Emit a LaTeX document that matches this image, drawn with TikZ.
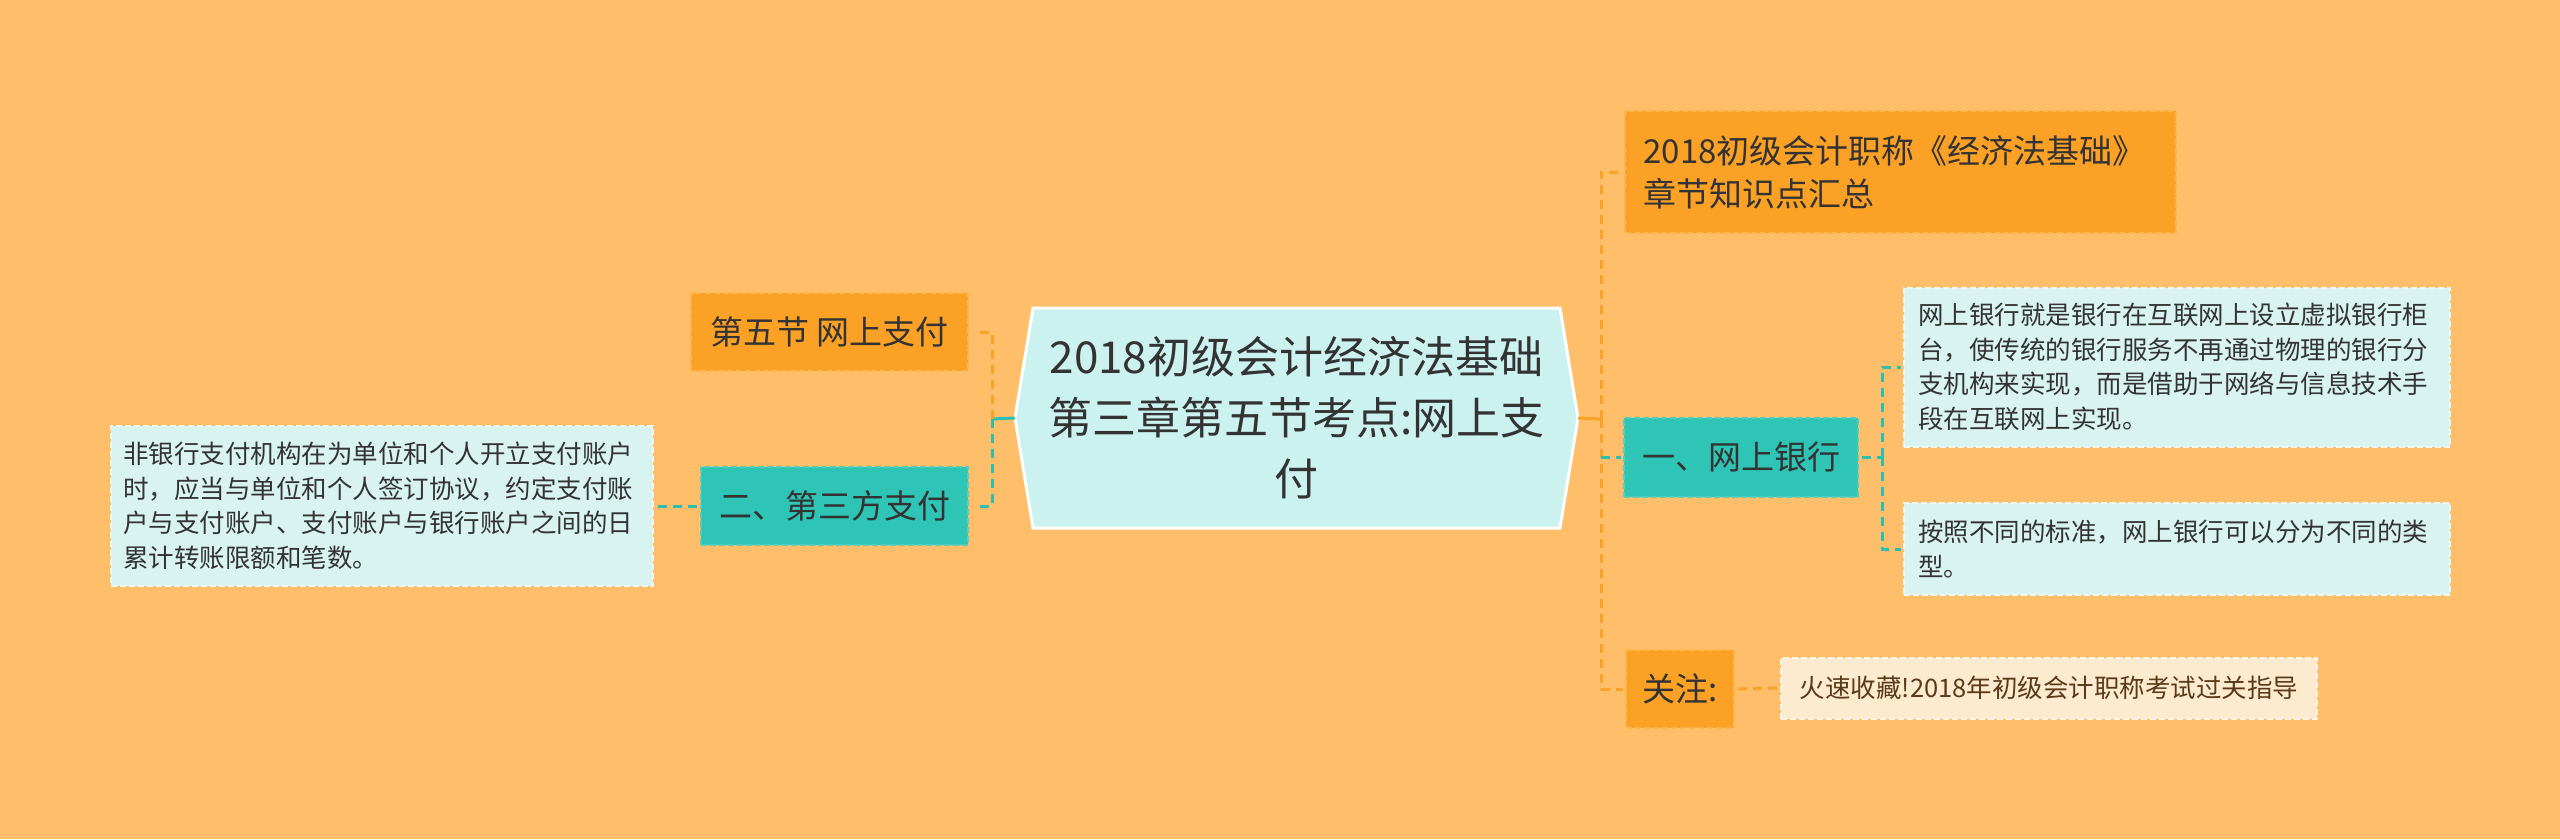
\documentclass[tikz,border=0pt]{standalone}
\usepackage{fontspec}
\setmainfont{Noto Sans CJK SC}
\usetikzlibrary{backgrounds}
\definecolor{bgc}{HTML}{FFBE6A}
\definecolor{orgfill}{HTML}{FBA125}
\definecolor{orgline}{HTML}{FDB54E}
\definecolor{tealfill}{HTML}{2EC4B6}
\definecolor{tealline}{HTML}{4FCFC2}
\definecolor{cenfill}{HTML}{CBF2EF}
\definecolor{tbfill}{HTML}{D8F3F0}
\definecolor{tbline}{HTML}{EAF8F6}
\definecolor{crfill}{HTML}{FDEBD0}
\definecolor{crline}{HTML}{FFF6E8}
\definecolor{txt}{HTML}{333333}
\definecolor{brn}{HTML}{5A3A18}
\definecolor{corg}{HTML}{F8A226}
\definecolor{cteal}{HTML}{2CBFB1}
\begin{document}
\begin{tikzpicture}[x=1pt,y=-1pt,
  every node/.style={inner sep=0pt,outer sep=0pt,text=txt},
  nodeborder/.style={line width=2pt,dash pattern=on 6pt off 3pt},
  obox/.style={nodeborder,fill=orgfill,draw=orgline,align=center,font=\fontsize{33}{43}\selectfont},
  tbox/.style={nodeborder,fill=tealfill,draw=tealline,align=center,font=\fontsize{33}{43}\selectfont},
  lbox/.style={nodeborder,fill=tbfill,draw=tbline,align=left,font=\fontsize{25.5}{34.5}\selectfont},
  cbox/.style={nodeborder,fill=crfill,draw=crline,align=center,text=brn,font=\fontsize{25.5}{34}\selectfont},
  olink/.style={draw=corg,line width=3pt,dash pattern=on 9pt off 6pt},
  tlink/.style={draw=cteal,line width=3pt,dash pattern=on 9pt off 6pt},
]
\path[use as bounding box] (0,0) rectangle (2560,839);

% central
\node[minimum width=563pt,minimum height=220pt,align=center,
  font=\fontsize{44}{61}\selectfont] (c) at (1296.5,418)
  {2018初级会计经济法基础\\第三章第五节考点:网上支\\付};
\begin{pgfonlayer}{background}
\fill[bgc] (0,0) rectangle (2560,839);
\draw[fill=cenfill,draw=white,line width=3pt,line join=miter]
  (c.west) -- ([xshift=18pt]c.north west) -- ([xshift=-18pt]c.north east)
  -- (c.east) -- ([xshift=-18pt]c.south east) -- ([xshift=18pt]c.south west) -- cycle;
\end{pgfonlayer}

% left side
\node[obox,minimum width=277pt,minimum height=78pt] (n5) at (829.5,332) {第五节 网上支付};
\node[tbox,minimum width=267pt,minimum height=78pt] (n2) at (834.5,506) {二、第三方支付};
\node[lbox,text width=518pt,inner xsep=12pt,minimum height=160pt] (lb) at (382,506)
  {非银行支付机构在为单位和个人开立支付账户\\时，应当与单位和个人签订协议，约定支付账\\户与支付账户、支付账户与银行账户之间的日\\累计转账限额和笔数。};

% right side
\node[obox,align=left,text width=513pt,inner xsep=19pt,minimum height=122pt] (rt) at (1900,172)
  {2018初级会计职称《经济法基础》\\章节知识点汇总};
\node[tbox,minimum width=234pt,minimum height=79pt] (n1) at (1741,457) {一、网上银行};
\node[lbox,text width=518pt,inner xsep=14pt,minimum height=159pt] (t1) at (2177,367)
  {网上银行就是银行在互联网上设立虚拟银行柜\\台，使传统的银行服务不再通过物理的银行分\\支机构来实现，而是借助于网络与信息技术手\\段在互联网上实现。};
\node[lbox,text width=518pt,inner xsep=14pt,minimum height=92pt] (t2) at (2177,549)
  {按照不同的标准，网上银行可以分为不同的类\\型。};
\node[obox,minimum width=108pt,minimum height=78pt] (gz) at (1680,689) {关注:};
\node[cbox,minimum width=536pt,minimum height=61pt] (cr) at (2049,688)
  {火速收藏!2018年初级会计职称考试过关指导};

% connectors left
\coordinate (jl) at (992,419);
\draw[cteal,line width=3pt] (c.west) -- (jl);
\draw[olink,shorten >=9pt] (jl) |- (n5.east);
\draw[tlink,shorten >=9pt] (jl) |- (n2.east);
\draw[tlink,shorten >=4pt,shorten <=4pt] (n2.west) -- (lb.east);

% connectors right
\coordinate (jr) at (1601,419);
\draw[corg,line width=3pt] (c.east) -- (jr);
\draw[olink,shorten >=3pt] (jr) |- (rt.west);
\draw[olink,shorten >=3pt] (jr) |- (gz.west);
\draw[tlink,shorten >=3pt] (n1.west -| jr) -- (n1.west);
\coordinate (jt) at (1882,457);
\draw[tlink,shorten <=4pt] (n1.east) -- (jt);
\draw[tlink,shorten >=3pt] (jt) |- (t1.west);
\draw[tlink,shorten >=3pt] (jt) |- (t2.west);
\draw[olink,shorten >=4pt,shorten <=4pt] (gz.east) -- (cr.west);
\end{tikzpicture}
\end{document}
